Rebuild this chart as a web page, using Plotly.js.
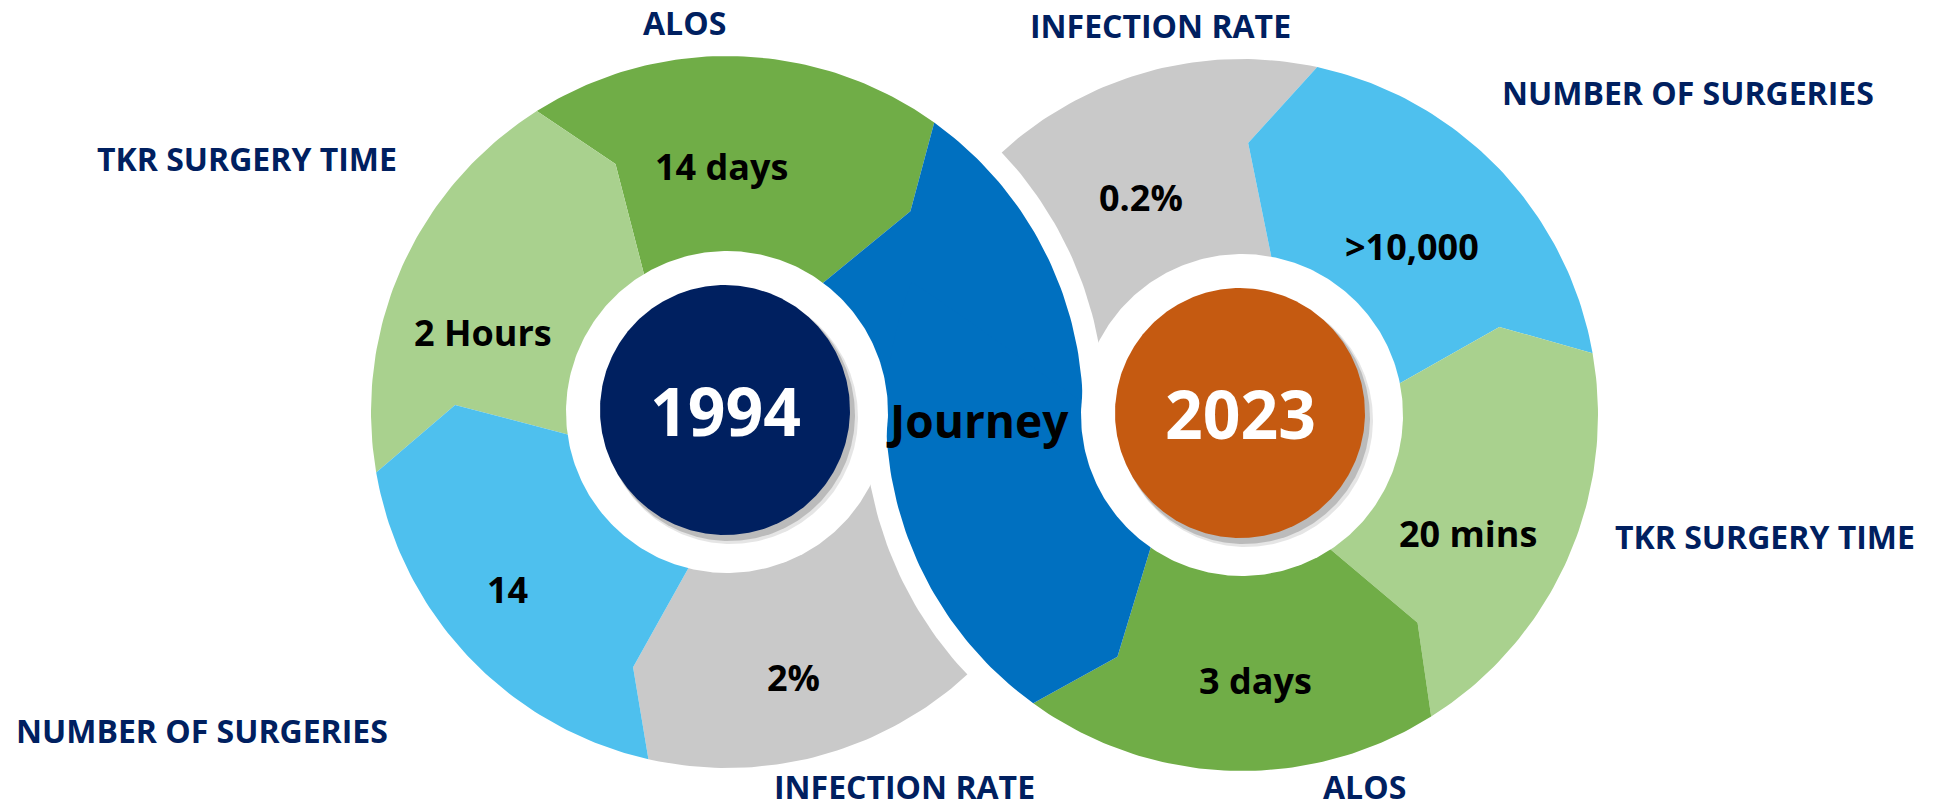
<!DOCTYPE html>
<html>
<head>
<meta charset="utf-8">
<script src="https://cdn.plot.ly/plotly-3.0.1.min.js"></script>
<style>
html,body{margin:0;padding:0;background:#ffffff;}
#chart{width:1934px;height:809px;}
</style>
</head>
<body>
<div id="chart"></div>
<script>
// ---------------- data ----------------
const metrics = ['ALOS', 'TKR SURGERY TIME', 'NUMBER OF SURGERIES', 'INFECTION RATE'];
const years = ['1994', '2023'];
const values1994 = ['14 days', '2 Hours', '14', '2%'];
const values2023 = ['3 days', '20 mins', '>10,000', '0.2%'];
const bridgeLabel = 'Journey';

// ---------------- style / geometry ----------------
const W = 1934, H = 809;
const R = 356, R_NOTCH = 272, R_IN = 150, GAP = 22, RING = 161, CORE = 125;
const FONT = 'Open Sans, Lato, sans-serif';
const metricColors = {
  'ALOS': '#70AD47',
  'TKR SURGERY TIME': '#A9D18E',
  'NUMBER OF SURGERIES': '#4EC0EE',
  'INFECTION RATE': '#C9C9C9',
  '__bridge': '#0070C0'
};
const coreColors = ['#002060', '#C55A11'];
const labelColor = '#002060';

// boundaries (clockwise, degrees from north): [inner, notch, outer]
const circles = [
  { cx: 727, cy: 412, values: values1994,
    order: ['ALOS', '__bridge', 'INFECTION RATE', 'NUMBER OF SURGERIES', 'TKR SURGERY TIME'],
    bounds: [[327.7, 335.8, 327.7], [395.6, 402.4, 395.6], [452, 468, 472], [552.75, 560.2, 552.75], [620.2, 631.5, 620.2]],
    valuePolar: {'ALOS': [-1.3, 246], 'TKR SURGERY TIME': [288, 257], 'NUMBER OF SURGERIES': [231, 282], 'INFECTION RATE': [166, 274]},
    labelXY: {'ALOS': [684, 22], 'TKR SURGERY TIME': [247, 158], 'NUMBER OF SURGERIES': [202, 730], 'INFECTION RATE': [904, 786]}
  },
  { cx: 1242, cy: 415, values: values2023,
    order: ['INFECTION RATE', 'NUMBER OF SURGERIES', 'TKR SURGERY TIME', 'ALOS', '__bridge'],
    bounds: [[272, 288, 292], [372.2, 361.3, 372.2], [440, 431.1, 440], [507.9, 499.8, 507.9], [575.9, 567.25, 575.9]],
    valuePolar: {'ALOS': [177, 266], 'TKR SURGERY TIME': [117.6, 255], 'NUMBER OF SURGERIES': [45.3, 239], 'INFECTION RATE': [335, 240]},
    labelXY: {'ALOS': [1364, 786], 'TKR SURGERY TIME': [1765, 536], 'NUMBER OF SURGERIES': [1688, 92], 'INFECTION RATE': [1160, 25]}
  }
];
const bridgeXY = [977, 420];

function pt(c, r, deg) {
  const t = deg * Math.PI / 180;
  return [c.cx + r * Math.sin(t), c.cy - r * Math.cos(t)];
}

function segmentShape(c, name) {
  const i = c.order.indexOf(name);
  const b0 = c.bounds[i];
  let b1 = c.bounds[(i + 1) % c.bounds.length].slice();
  if (b1[2] < b0[2]) b1 = b1.map(v => v + 360);
  const xs = [], ys = [];
  const push = p => { xs.push(p[0]); ys.push(p[1]); };
  push(pt(c, R_IN, b0[0]));
  push(pt(c, R_NOTCH, b0[1]));
  for (let a = b0[2]; a < b1[2]; a += 1) push(pt(c, R, a));
  push(pt(c, R, b1[2]));
  push(pt(c, R_NOTCH, b1[1]));
  push(pt(c, R_IN, b1[0]));
  for (let a = b1[0]; a > b0[0]; a -= 1) push(pt(c, R_IN, a));
  push(pt(c, R_IN, b0[0]));
  return { xs, ys };
}

function disc(cx, cy, r, a0 = 0, a1 = 360, withCenter = false) {
  const c = { cx, cy };
  const xs = [], ys = [];
  if (withCenter) { xs.push(cx); ys.push(cy); }
  for (let a = a0; a <= a1; a += 1) { const p = pt(c, r, a); xs.push(p[0]); ys.push(p[1]); }
  if (withCenter) { xs.push(cx); ys.push(cy); }
  return { xs, ys };
}

function fillTrace(shape, color) {
  return { type: 'scatter', mode: 'lines', x: shape.xs, y: shape.ys, fill: 'toself',
           fillcolor: color, line: { width: 0, color: color }, hoverinfo: 'skip', showlegend: false };
}

const L = circles[0], Rc = circles[1];
const traces = [];
// 1. 1994 infection segment (sits under the 2023 circle)
traces.push(fillTrace(segmentShape(L, 'INFECTION RATE'), metricColors['INFECTION RATE']));
// 2. white halo of the 2023 circle
traces.push(fillTrace(disc(Rc.cx, Rc.cy, R + GAP), '#ffffff'));
// 3. 2023 infection segment (sits under the 1994 circle)
traces.push(fillTrace(segmentShape(Rc, 'INFECTION RATE'), metricColors['INFECTION RATE']));
// 4. white halo of the 1994 circle over the 2023 infection segment
traces.push(fillTrace(disc(L.cx, L.cy, R + GAP, 20, 100, true), '#ffffff'));
// 5. remaining 1994 segments
['ALOS', 'TKR SURGERY TIME', 'NUMBER OF SURGERIES', '__bridge'].forEach(m =>
  traces.push(fillTrace(segmentShape(L, m), metricColors[m])));
// 6. remaining 2023 segments
['NUMBER OF SURGERIES', 'TKR SURGERY TIME', 'ALOS', '__bridge'].forEach(m =>
  traces.push(fillTrace(segmentShape(Rc, m), metricColors[m])));
// 7. white rings, shadows and year discs
circles.forEach((c, k) => {
  traces.push(fillTrace(disc(c.cx, c.cy, RING), '#ffffff'));
  traces.push(fillTrace(disc(c.cx + 4, c.cy + 5, CORE + 2), 'rgba(0,0,0,0.10)'));
  traces.push(fillTrace(disc(c.cx + 2, c.cy + 3, CORE + 1), 'rgba(0,0,0,0.18)'));
  traces.push(fillTrace(disc(c.cx - 2, c.cy - 2, CORE), coreColors[k]));
});

const annotations = [];
circles.forEach((c, k) => {
  metrics.forEach((m, j) => {
    const vp = c.valuePolar[m];
    const p = pt(c, vp[1], vp[0]);
    annotations.push({ x: p[0], y: p[1], xref: 'x', yref: 'y', showarrow: false,
      text: '<b>' + c.values[j] + '</b>', font: { family: FONT, size: 36, color: '#000000' },
      xanchor: 'center', yanchor: 'middle' });
    const lp = c.labelXY[m];
    annotations.push({ x: lp[0], y: lp[1], xref: 'x', yref: 'y', showarrow: false,
      text: '<b>' + m + '</b>', font: { family: FONT, size: 32, color: labelColor },
      xanchor: 'center', yanchor: 'middle' });
  });
  annotations.push({ x: c.cx - 2, y: c.cy - 2, xref: 'x', yref: 'y', showarrow: false,
    text: '<b>' + years[k] + '</b>', font: { family: FONT, size: 66, color: '#ffffff' },
    xanchor: 'center', yanchor: 'middle' });
});
annotations.push({ x: bridgeXY[0], y: bridgeXY[1], xref: 'x', yref: 'y', showarrow: false,
  text: '<b>' + bridgeLabel + '</b>', font: { family: FONT, size: 46, color: '#000000' },
  xanchor: 'center', yanchor: 'middle' });

const layout = {
  width: W, height: H,
  margin: { l: 0, r: 0, t: 0, b: 0, pad: 0 },
  paper_bgcolor: '#ffffff', plot_bgcolor: '#ffffff',
  showlegend: false,
  xaxis: { range: [0, W], visible: false, fixedrange: true },
  yaxis: { range: [H, 0], visible: false, fixedrange: true },
  annotations: annotations
};

Plotly.newPlot('chart', traces, layout, { displayModeBar: false, staticPlot: true });
</script>
</body>
</html>
